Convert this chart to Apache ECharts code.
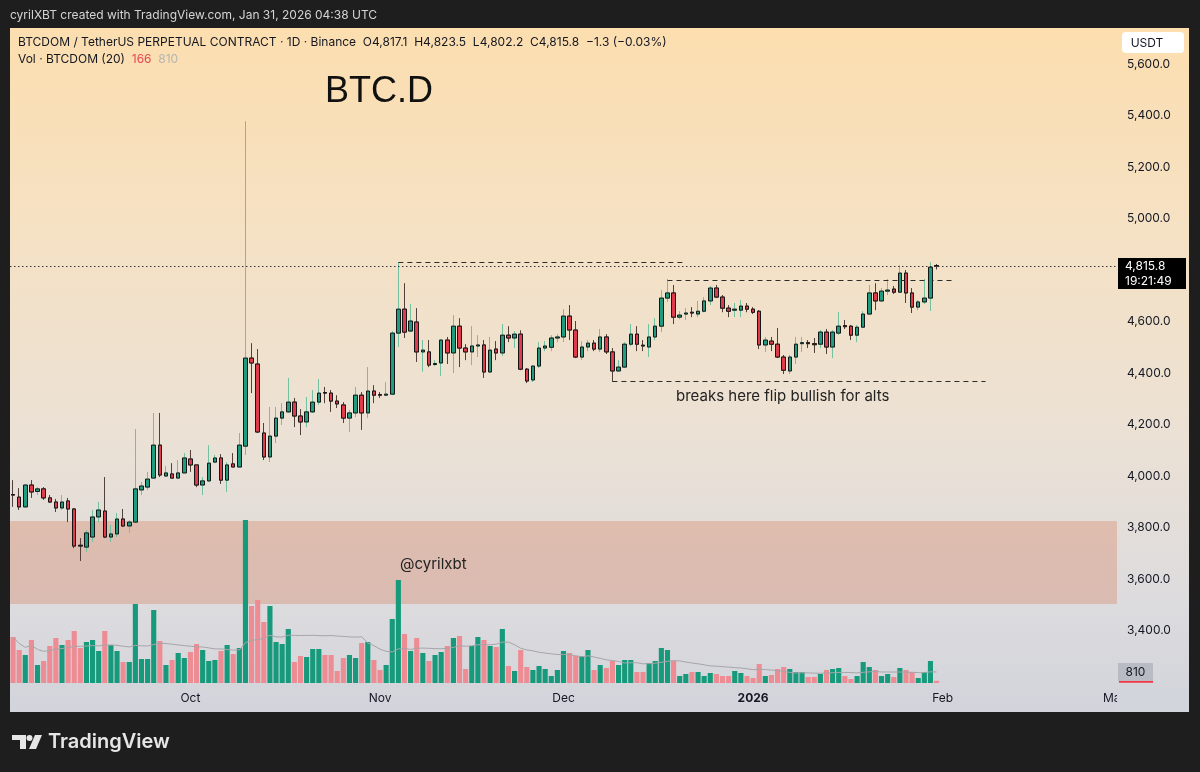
<!DOCTYPE html>
<html><head><meta charset="utf-8">
<script src="https://cdn.jsdelivr.net/npm/echarts@6/dist/echarts.min.js"></script>
<style>html,body{margin:0;padding:0;background:#1e1e1e}#c{width:1200px;height:772px}</style>
</head><body><div id="c"></div>
<script>
// ---- data (daily candles, BTCDOM/USDT perp, Binance) ----
const startDate = '2025-09-02';
const endDate = '2026-03-01';
const open = [3928,3918,3880,3965,3940,3950,3915,3899,3876,3903,
 3872,3731,3724,3763,3841,3864,3763,3775,3833,3806,
 3821,3946,3957,3992,4120,4000,4008,3992,4012,4066,
 4043,3965,3981,4054,4070,3984,4047,4035,4116,4458,
 4435,4167,4074,4155,4225,4249,4287,4233,4210,4249,
 4287,4324,4322,4291,4276,4225,4245,4314,4245,4330,
 4316,4314,4318,4555,4648,4563,4598,4482,4482,4433,
 4439,4528,4478,4582,4497,4482,4505,4509,4404,4493,
 4478,4547,4536,4551,4415,4373,4427,4497,4500,4536,
 4540,4621,4567,4462,4501,4516,4493,4540,4482,4408,
 4423,4512,4551,4508,4501,4540,4582,4691,4711,4617,
 4629,4636,4629,4640,4680,4730,4695,4652,4644,4644,
 4660,4648,4640,4509,4524,4512,4462,4408,4462,4514,
 4518,4514,4512,4559,4501,4555,4584,4582,4547,4578,
 4629,4711,4680,4718,4726,4714,4788,4711,4656,4676,
 4691,4817.1];
const high = [3984,3953,3968,3984,3957,3957,3926,3911,3926,3915,
 3876,3759,3790,3868,3899,3996,3810,3856,3872,3829,
 4182,3977,4016,4245,4245,4039,4050,4062,4089,4101,
 4043,3996,4120,4082,4085,4054,4089,4167,5378,4516,
 4493,4206,4268,4268,4283,4381,4303,4260,4307,4334,
 4377,4346,4334,4314,4287,4256,4346,4326,4423,4353,
 4326,4365,4563,4831,4749,4668,4652,4528,4528,4450,
 4532,4540,4625,4613,4512,4582,4547,4528,4540,4524,
 4590,4582,4563,4566,4419,4431,4520,4524,4547,4551,
 4648,4664,4602,4524,4528,4528,4571,4551,4497,4450,
 4520,4590,4582,4528,4590,4613,4722,4765,4742,4640,
 4652,4656,4680,4695,4738,4742,4703,4664,4672,4683,
 4672,4656,4644,4540,4540,4575,4470,4470,4540,4540,
 4528,4536,4567,4571,4567,4637,4606,4586,4586,4640,
 4742,4749,4730,4765,4738,4819,4800,4730,4683,4765,
 4831,4823.5];
const low = [3880,3868,3878,3915,3926,3907,3895,3860,3868,3821,
 3720,3670,3705,3744,3821,3759,3744,3763,3802,3779,
 3817,3926,3946,3992,3996,3996,3992,3992,4012,4016,
 3957,3926,3977,4050,3969,3938,4035,4035,4082,4322,
 4167,4062,4054,4128,4198,4245,4190,4159,4190,4245,
 4276,4283,4249,4264,4206,4171,4229,4179,4225,4283,
 4303,4314,4314,4501,4536,4559,4443,4405,4423,4427,
 4388,4435,4400,4423,4450,4431,4462,4381,4400,4450,
 4466,4520,4497,4411,4361,4365,4419,4485,4485,4520,
 4520,4528,4458,4450,4485,4485,4482,4474,4366,4404,
 4419,4505,4485,4485,4462,4528,4559,4676,4590,4609,
 4605,4617,4617,4636,4664,4691,4636,4617,4617,4617,
 4636,4629,4493,4482,4485,4458,4396,4396,4435,4482,
 4497,4478,4497,4474,4458,4548,4571,4528,4520,4575,
 4625,4644,4676,4703,4707,4711,4672,4633,4644,4668,
 4641,4802.2];
const close = [3926,3880,3965,3938,3950,3915,3899,3876,3899,3872,
 3728,3728,3779,3841,3868,3763,3775,3833,3806,3821,
 3950,3961,3988,4120,4004,4012,3992,4012,4070,4043,
 3965,3981,4050,4070,3984,4043,4035,4120,4458,4439,
 4171,4074,4155,4225,4249,4287,4233,4210,4249,4287,
 4322,4322,4291,4280,4225,4245,4314,4245,4330,4314,
 4314,4318,4555,4648,4559,4602,4482,4489,4431,4437,
 4528,4478,4582,4497,4482,4505,4509,4404,4489,4478,
 4547,4536,4551,4415,4369,4427,4497,4505,4536,4540,
 4621,4567,4462,4501,4516,4493,4540,4482,4408,4423,
 4512,4551,4512,4505,4540,4582,4691,4711,4617,4625,
 4633,4633,4640,4680,4730,4695,4652,4640,4648,4660,
 4648,4636,4509,4528,4512,4462,4411,4462,4512,4518,
 4514,4510,4559,4501,4559,4582,4580,4547,4578,4629,
 4711,4680,4718,4722,4714,4788,4711,4656,4676,4691,
 4811,4815.8];
const volume = [3450,2475,2100,3225,1350,1650,2775,3375,2850,3225,
 3900,2625,3075,3225,2400,3900,2850,2400,1575,1575,
 5925,1800,1800,5475,3150,1350,1725,2250,1875,2325,
 2925,2475,1650,1725,2400,2850,2175,2625,12225,5775,
 6225,4575,5775,3075,2925,4050,1575,2025,1950,2550,
 2550,2100,2100,900,1875,2100,1875,3000,3075,1725,
 975,1350,4800,7725,3675,2400,3375,2250,1650,2100,
 2325,2775,3375,3525,1050,2775,3450,3225,2775,2700,
 4050,1275,900,2475,1200,975,1275,1050,525,975,
 2400,2250,2025,2025,2475,975,1350,1125,1650,1350,
 1725,1725,825,825,1500,1650,2625,2475,1650,525,
 675,825,825,525,750,675,525,525,900,750,
 525,375,1425,525,600,1050,1200,1050,825,825,
 450,450,675,975,1050,1125,525,300,525,1575,
 1200,975,525,675,450,1125,975,825,375,825,
 1650,166];
const monthTicks = {'10-01':'Oct','11-01':'Nov','12-01':'Dec','01-01':'2026','02-01':'Feb','03-01':'Mar'};
const supplyZone = [3503, 3825];
// drawn levels: [startIndex, endIndex, price]
const levelStart = [63, 107, 98];
const levelEnd   = [110, 154, 159];
const levelPrice = [4831, 4761, 4367];
const lastPrice = 4815.8;
const countdown = '19:21:49';
const volMaLabel = 810;
const maPeriod = 20;

// ---- build ----
const dates = [];
for (let d = new Date(startDate + 'T00:00:00Z'); d <= new Date(endDate + 'T00:00:00Z'); d.setUTCDate(d.getUTCDate() + 1)) {
  dates.push(d.toISOString().slice(0, 10));
}
const N = open.length;
const wickData = [], bodyData = [], volData = [], maData = [];
const UP = '#1f9c7f', DOWN = '#e03b4c';
for (let i = 0; i < N; i++) {
  wickData.push([open[i], close[i], low[i], high[i]]);
  bodyData.push([open[i], close[i], Math.min(open[i], close[i]), Math.max(open[i], close[i])]);
  const up = close[i] >= open[i];
  volData.push({ value: volume[i], itemStyle: { color: up ? '#179a7c' : '#ee8c94' } });
  const s = Math.max(0, i - maPeriod + 1);
  let sum = 0; for (let k = s; k <= i; k++) sum += volume[k];
  maData.push(+(sum / (i - s + 1)).toFixed(1));
}
const FONT = 'Inter, "Noto Sans", sans-serif';
const TXT = '#131722';

const chart = echarts.init(document.getElementById('c'), null, { renderer: 'canvas' });
const markLines = [];
for (let k = 0; k < levelPrice.length; k++) {
  markLines.push([{ coord: [dates[levelStart[k]], levelPrice[k]] }, { coord: [dates[levelEnd[k]], levelPrice[k]] }]);
}
markLines.push({ yAxis: lastPrice, lineStyle: { type: [1.5, 2.5], color: '#3a3a3a', width: 1 } });

const option = {
  backgroundColor: '#1e1e1e',
  animation: false,
  grid: [
    { left: 10, right: 83, top: 28, bottom: 90 },
    { left: 10, right: 83, top: 483, bottom: 89 }
  ],
  xAxis: [
    { gridIndex: 0, type: 'category', data: dates, show: false },
    { gridIndex: 1, type: 'category', data: dates,
      axisLine: { show: false }, axisTick: { show: false }, splitLine: { show: false },
      axisLabel: {
        interval: (idx, val) => !!monthTicks[val.slice(5)],
        formatter: (val) => { const l = monthTicks[val.slice(5)] || ''; return l === '2026' ? '{b|2026}' : l; },
        color: TXT, fontSize: 12, fontFamily: FONT, margin: 9,
        rich: { b: { fontWeight: 'bold', fontSize: 12, fontFamily: FONT, color: TXT } }
      } }
  ],
  yAxis: [
    { gridIndex: 0, type: 'value', position: 'right', min: 3200, max: 5740, interval: 200,
      axisLine: { show: false }, axisTick: { show: false }, splitLine: { show: false },
      axisLabel: { margin: 10, color: TXT, fontSize: 12, fontFamily: FONT,
        showMaxLabel: false,
        formatter: v => (v < 3300 || v > 5650) ? '' : v.toLocaleString('en-US', { minimumFractionDigits: 1, maximumFractionDigits: 1 }) } },
    { gridIndex: 1, type: 'value', min: 0, max: 15000, show: false }
  ],
  series: [
    { type: 'line', xAxisIndex: 0, yAxisIndex: 0, data: dates.map(() => null), z: 1, silent: true,
      markArea: { silent: true, itemStyle: { color: 'rgba(214,134,104,0.37)' },
        data: [[{ yAxis: supplyZone[0] }, { yAxis: supplyZone[1] }]] } },
    { type: 'bar', xAxisIndex: 1, yAxisIndex: 1, data: volData, barCategoryGap: '16%', z: 2 },
    { type: 'line', xAxisIndex: 1, yAxisIndex: 1, data: maData, symbol: 'none', z: 3,
      lineStyle: { color: '#a6a6aa', width: 1 } },
    { type: 'candlestick', xAxisIndex: 0, yAxisIndex: 0, data: wickData, barWidth: 4, z: 4,
      itemStyle: { color: '#72c09f', color0: '#54403a', borderColor: '#72c09f', borderColor0: '#54403a', borderWidth: 1 } },
    { type: 'candlestick', xAxisIndex: 0, yAxisIndex: 0, data: bodyData, barWidth: 4, z: 5,
      itemStyle: { color: UP, color0: DOWN, borderColor: '#161616', borderColor0: '#161616', borderWidth: 1 },
      markLine: { silent: true, symbol: 'none', label: { show: false },
        lineStyle: { type: [5, 4], color: '#2b2b2b', width: 1.2 }, data: markLines } }
  ]
};
chart.setOption(option);

const yLP = chart.convertToPixel({ yAxisIndex: 0 }, lastPrice);
const yMA = chart.convertToPixel({ yAxisIndex: 1 }, maData[N - 1]);
const yV = chart.convertToPixel({ yAxisIndex: 1 }, volume[N - 1]);

const graphic = [
  // panel background
  { type: 'rect', z: -100, shape: { x: 10, y: 28, width: 1179, height: 684 },
    style: { fill: new echarts.graphic.LinearGradient(0, 0, 0, 1, [
      { offset: 0, color: '#fcdeaf' }, { offset: 0.3, color: '#f5e1c4' },
      { offset: 0.6, color: '#ebe1d5' }, { offset: 0.85, color: '#dcdbde' }, { offset: 1, color: '#d2d4db' }]) } },
  // cover the clipped time label under the price scale
  { type: 'rect', z: 50, shape: { x: 1117, y: 688, width: 72, height: 24 }, style: { fill: '#d3d5dc' } },
  // top strip text
  { type: 'text', z: 60, x: 10, y: 15, style: { text: 'cyrilXBT created with TradingView.com, Jan 31, 2026 04:38 UTC', fill: '#d4d4d4', font: '12px ' + FONT, verticalAlign: 'middle' } },
  // legend lines
  { type: 'text', z: 60, x: 18, y: 42, style: { text: 'BTCDOM / TetherUS PERPETUAL CONTRACT · 1D · Binance  O4,817.1  H4,823.5  L4,802.2  C4,815.8  −1.3 (−0.03%)', fill: TXT, font: '12px ' + FONT, verticalAlign: 'middle' } },
  { type: 'text', z: 60, x: 18, y: 59, style: { text: 'Vol · BTCDOM (20)  {r|166}  {g|810}', fill: TXT, font: '12px ' + FONT, verticalAlign: 'middle',
      rich: { r: { fill: '#e34a52', font: '12px ' + FONT }, g: { fill: '#b5b5b5', font: '12px ' + FONT } } } },
  // annotations
  { type: 'text', z: 60, x: 325, y: 92, style: { text: 'BTC.D', fill: '#111', font: '36px "Liberation Sans", Arial, sans-serif', verticalAlign: 'middle' } },
  { type: 'text', z: 60, x: 676, y: 396, style: { text: 'breaks here flip bullish for alts', fill: '#222', font: '15px ' + FONT, verticalAlign: 'middle' } },
  { type: 'text', z: 60, x: 400, y: 564, style: { text: '@cyrilxbt', fill: '#222', font: '15px ' + FONT, verticalAlign: 'middle' } },
  // USDT box
  { type: 'rect', z: 70, shape: { x: 1122, y: 32, width: 62, height: 21, r: 4 }, style: { fill: '#ffffff' } },
  { type: 'text', z: 71, x: 1147, y: 43, style: { text: 'USDT', fill: TXT, font: '12px ' + FONT, align: 'center', verticalAlign: 'middle' } },
  // last price label
  { type: 'rect', z: 70, shape: { x: 1118, y: yLP - 8, width: 68, height: 31 }, style: { fill: '#000' } },
  { type: 'text', z: 71, x: 1125, y: yLP + 0.5, style: { text: lastPrice.toLocaleString('en-US', { minimumFractionDigits: 1 }), fill: '#fff', font: '12px ' + FONT, verticalAlign: 'middle' } },
  { type: 'text', z: 71, x: 1125, y: yLP + 15, style: { text: countdown, fill: '#fff', font: '12px ' + FONT, verticalAlign: 'middle' } },
  // volume labels
  { type: 'rect', z: 70, shape: { x: 1119, y: yV - 1, width: 34, height: 3 }, style: { fill: '#f23645' } },
  { type: 'rect', z: 71, shape: { x: 1118, y: yMA - 9, width: 35, height: 18 }, style: { fill: '#b8bbc3' } },
  { type: 'text', z: 72, x: 1135.5, y: yMA, style: { text: String(volMaLabel), fill: TXT, font: '12px ' + FONT, align: 'center', verticalAlign: 'middle' } },
  // TradingView logo
  { type: 'rect', z: 60, shape: { x: 12, y: 735, width: 14, height: 5 }, style: { fill: '#e6e6e6' } },
  { type: 'rect', z: 60, shape: { x: 20, y: 735, width: 6, height: 14 }, style: { fill: '#e6e6e6' } },
  { type: 'circle', z: 60, shape: { cx: 29.5, cy: 738, r: 3 }, style: { fill: '#e6e6e6' } },
  { type: 'polygon', z: 60, shape: { points: [[35, 735], [42, 735], [36, 749], [29, 749]] }, style: { fill: '#e6e6e6' } },
  { type: 'text', z: 60, x: 48, y: 742, style: { text: 'TradingView', fill: '#e6e6e6', font: '600 20px ' + FONT, verticalAlign: 'middle' } }
];
chart.setOption({ graphic: graphic });
</script>
</body></html>
